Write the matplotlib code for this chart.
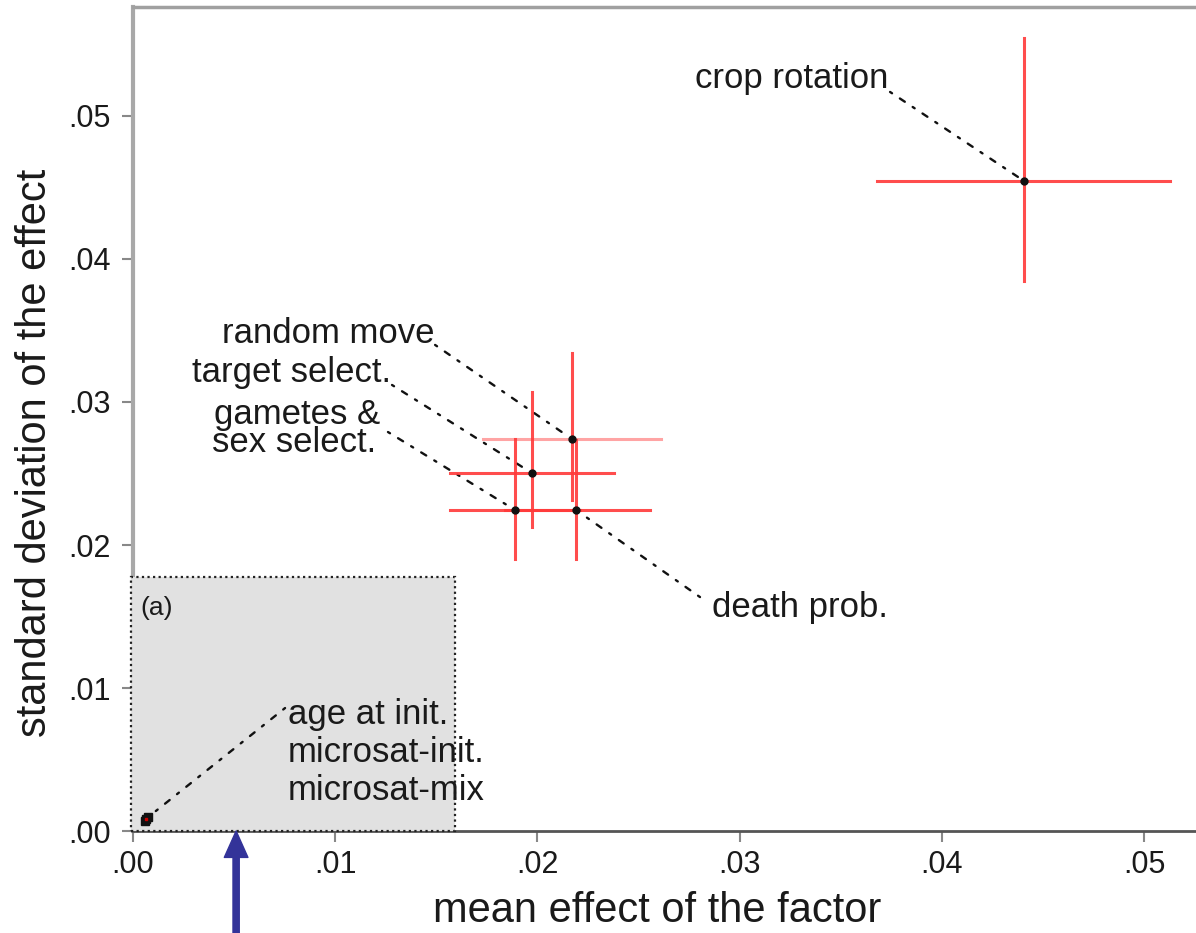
import matplotlib
matplotlib.use("Agg")
import matplotlib.pyplot as plt
from matplotlib.patches import Rectangle
from matplotlib.ticker import FuncFormatter

plt.rcParams['font.family'] = ['Liberation Sans', 'DejaVu Sans']
TXT = '#1a1a1a'
RED = '#ff3a3a'
PINK = '#ff9a9a'

# factors: mean effect (x), sd of effect (y), extents of the crosses
factors = ['crop rotation', 'random move', 'target select.', 'gametes & sex select.', 'death prob.']
mean_eff = [0.04407, 0.02171, 0.01973, 0.01889, 0.02191]
sd_eff = [0.04545, 0.02741, 0.02503, 0.02245, 0.02245]
x_lo = [0.03680, 0.01731, 0.01568, 0.01568, 0.01840]
x_hi = [0.05129, 0.02611, 0.02379, 0.02211, 0.02557]
y_lo = [0.03846, 0.02315, 0.02126, 0.01902, 0.01902]
y_hi = [0.05545, 0.03343, 0.03070, 0.02741, 0.02734]
hcolors = [RED, PINK, RED, RED, RED]

# tiny factors near the origin
small_names = ['age at init.', 'microsat-init.', 'microsat-mix']
small_x = [0.00058, 0.00066, 0.00074]
small_y = [0.00068, 0.00082, 0.00096]

xticks = [0.0, 0.01, 0.02, 0.03, 0.04, 0.05]
yticks = [0.0, 0.01, 0.02, 0.03, 0.04, 0.05]

fig = plt.figure(figsize=(11.96, 9.33), dpi=100)
ax = fig.add_axes([0.1112, 0.1093, 0.8888, 0.8832])
ax.set_xlim(0, 0.05257)
ax.set_ylim(0, 0.05762)

# shaded zoom region (a)
ax.add_patch(Rectangle((-0.0001, 0), 0.01603, 0.01776, facecolor='#e1e1e1',
                       edgecolor='#222222', linestyle=(0, (1, 1.5)), lw=1.6,
                       zorder=3, clip_on=False))
ax.text(0.00035, 0.0151, '(a)', fontsize=19, color=TXT, zorder=5)

for i in range(len(factors)):
    ax.plot([x_lo[i], x_hi[i]], [sd_eff[i], sd_eff[i]], color=hcolors[i], lw=2.2, alpha=0.9, zorder=4)
    ax.plot([mean_eff[i], mean_eff[i]], [y_lo[i], y_hi[i]], color=RED, lw=2.2, alpha=0.9, zorder=4)
ax.plot(mean_eff, sd_eff, 'o', color='#111111', ms=5, zorder=6)
ax.plot(small_x, small_y, 's', color='#111111', ms=6, zorder=6)
ax.plot(small_x[1], small_y[1], 's', color='#cc0000', ms=2, zorder=7)

leader = dict(arrowstyle='-', color='#111111', lw=1.7, linestyle=(0, (1, 4, 2.5, 4)),
              shrinkA=0, shrinkB=4)
fs = 25

ax.text(0.03259, 0.05196, 'crop rotation', ha='center', va='baseline', fontsize=fs, color=TXT)
ax.annotate('', xy=(mean_eff[0], sd_eff[0]), xytext=(0.03744, 0.05168), arrowprops=leader)

ax.text(0.00964, 0.03413, 'random move', ha='center', va='baseline', fontsize=fs, color=TXT)
ax.annotate('', xy=(mean_eff[1], sd_eff[1]), xytext=(0.01494, 0.03399), arrowprops=leader)

ax.text(0.00786, 0.0314, 'target select.', ha='center', va='baseline', fontsize=fs, color=TXT)
ax.annotate('', xy=(mean_eff[2], sd_eff[2]), xytext=(0.01281, 0.03119), arrowprops=leader)

ax.text(0.00811, 0.02845, 'gametes &', ha='center', va='baseline', fontsize=fs, color=TXT)
ax.text(0.00796, 0.0265, 'sex select.', ha='center', va='baseline', fontsize=fs, color=TXT)
ax.annotate('', xy=(mean_eff[3], sd_eff[3]), xytext=(0.01261, 0.0279), arrowprops=leader)

ax.text(0.02864, 0.01497, 'death prob.', ha='left', va='baseline', fontsize=fs, color=TXT)
ax.annotate('', xy=(mean_eff[4], sd_eff[4]), xytext=(0.02804, 0.01636), arrowprops=leader)

small_base = [0.00748, 0.00483, 0.00217]
for name, yb in zip(small_names, small_base):
    ax.text(0.00767, yb, name, ha='left', va='baseline', fontsize=fs, color=TXT, zorder=5)
ax.annotate('', xy=(small_x[2], small_y[2]), xytext=(0.00752, 0.0086), arrowprops=leader, zorder=5)

# blue arrow under the axis
ax.annotate('', xy=(0.0051, 0.0), xytext=(0.0051, -0.0075), annotation_clip=False,
            arrowprops=dict(facecolor='#333399', edgecolor='#333399', width=4.5,
                            headwidth=17, headlength=19, shrink=0))

ax.set_xticks(xticks)
ax.set_yticks(yticks)
fmt = FuncFormatter(lambda v, p: ('%.2f' % v)[1:])
ax.xaxis.set_major_formatter(fmt)
ax.yaxis.set_major_formatter(fmt)
ax.tick_params(axis='both', labelsize=22, colors='#888888', labelcolor=TXT, length=8, width=1.5)
ax.tick_params(axis='x', pad=6)
ax.tick_params(axis='y', pad=8)

ax.set_xlabel('mean effect of the factor', fontsize=30, color=TXT, labelpad=10)
ax.xaxis.set_label_coords(0.493, -0.073, transform=ax.transAxes)
ax.xaxis.label.set_va('top')
ax.set_ylabel('standard deviation of the effect', fontsize=30, color=TXT, labelpad=8)
ax.yaxis.set_label_coords(-0.073, 0.459, transform=ax.transAxes)

ax.spines['right'].set_visible(False)
ax.spines['left'].set_color('#a8a8a8')
ax.spines['left'].set_linewidth(3)
ax.spines['top'].set_color('#a0a0a0')
ax.spines['top'].set_linewidth(2.5)
ax.spines['bottom'].set_color('#555555')
ax.spines['bottom'].set_linewidth(2)

fig.savefig('out.png', dpi=100)
